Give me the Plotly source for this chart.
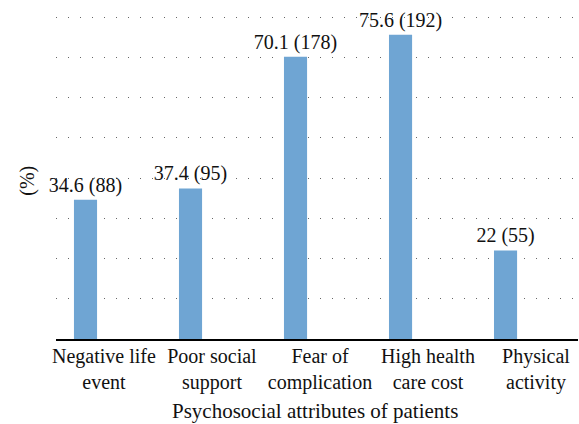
import plotly.graph_objects as go

categories = ["Negative life<br>event", "Poor social<br>support", "Fear of<br>complication",
              "High health<br>care cost", "Physical<br>activity"]
percent = [34.6, 37.4, 70.1, 75.6, 22]
counts = [88, 95, 178, 192, 55]
labels = [f"{p:g} ({c})" for p, c in zip(percent, counts)]

FONT = "Liberation Serif"
FS = 20
idx = list(range(len(categories)))

fig = go.Figure()
fig.add_trace(go.Bar(
    x=idx, y=percent, text=labels,
    textposition="outside", cliponaxis=False, constraintext="none",
    textfont=dict(family=FONT, size=FS, color="#111"),
    marker=dict(color="#6fa5d3", line=dict(width=0)),
    width=0.22, hoverinfo="skip",
))
# carrier for the category tick labels (labels are spread slightly wider than bars)
fig.add_trace(go.Scatter(x=idx, y=[None] * len(idx), xaxis="x2", mode="markers",
                         showlegend=False, hoverinfo="skip"))

fig.update_layout(
    width=579, height=424,
    margin=dict(l=56, r=1, t=16, b=85),
    plot_bgcolor="white", paper_bgcolor="white",
    showlegend=False,
    font=dict(family=FONT, size=FS, color="#111"),
    xaxis=dict(
        range=[-0.281, 4.69], automargin=False,
        showticklabels=False,
        showline=True, linecolor="black", linewidth=2,
        showgrid=False, ticks="", zeroline=False,
    ),
    xaxis2=dict(
        range=[-0.444, 4.389], automargin=False, overlaying="x", anchor="y", side="bottom",
        tickmode="array", tickvals=idx, ticktext=categories, ticklabelstandoff=3,
        showline=False, showgrid=False, ticks="", zeroline=False,
        tickfont=dict(family=FONT, size=FS, color="#111"),
    ),
    yaxis=dict(
        range=[0, 80.25], automargin=False, showticklabels=False, ticks="",
        tickmode="linear", tick0=0, dtick=10,
        showgrid=True, gridcolor="#666", gridwidth=1, griddash="1px,11px",
        zeroline=False, showline=False,
    ),
    annotations=[
        dict(text="(%)", textangle=-90, xref="paper", yref="paper",
             x=-0.0536, y=0.49, xanchor="center", yanchor="middle", showarrow=False,
             font=dict(family=FONT, size=FS, color="#111")),
        dict(text="Psychosocial attributes of patients", xref="paper", yref="paper",
             x=0.496, y=-0.222, yanchor="middle", xanchor="center", showarrow=False,
             font=dict(family=FONT, size=21, color="#111")),
    ],
)

fig.write_html("out.html", config={"displayModeBar": False},
               post_script="document.body.style.margin='0';")
